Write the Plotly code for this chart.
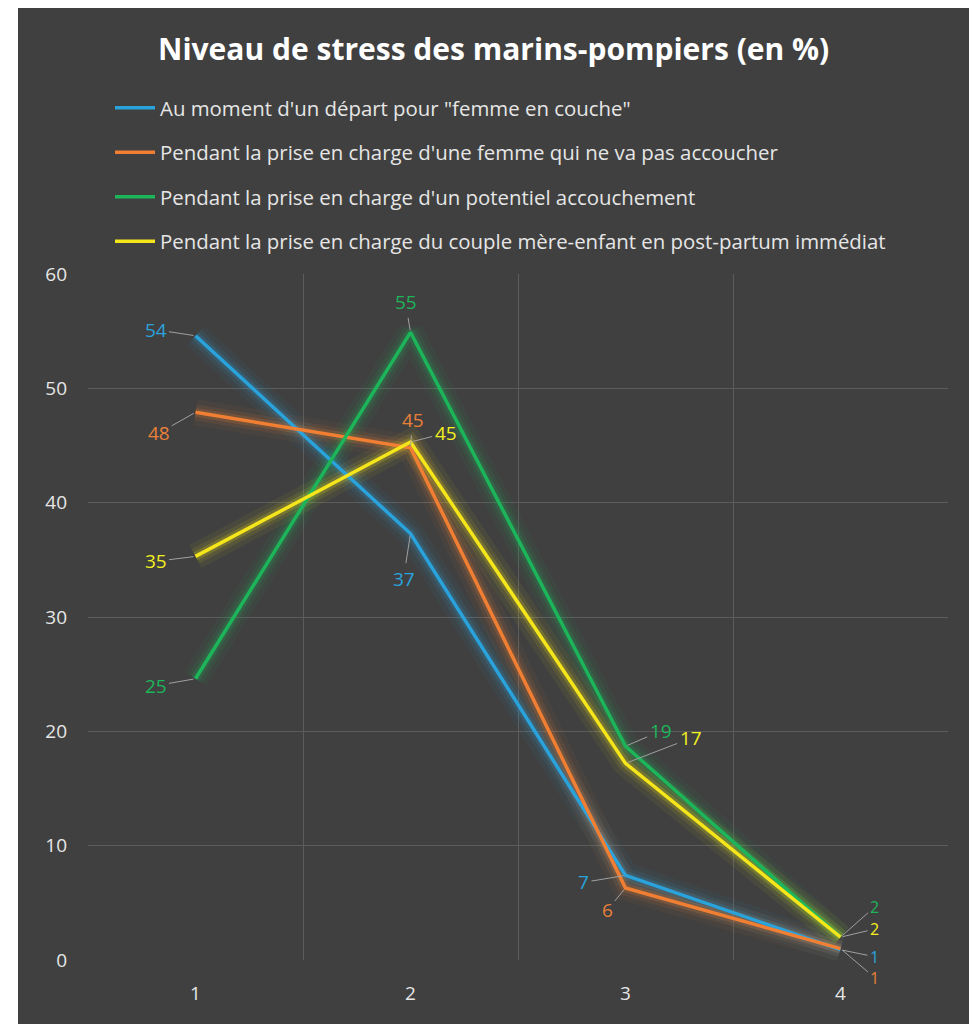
import plotly.graph_objects as go

categories = ["1", "2", "3", "4"]

series_names = [
    "Au moment d'un départ pour \"femme en couche\"",
    "Pendant la prise en charge d'une femme qui ne va pas accoucher",
    "Pendant la prise en charge d'un potentiel accouchement",
    "Pendant la prise en charge du couple mère-enfant en post-partum immédiat",
]
blue_vals = [54.6, 37.3, 7.4, 0.9]
orange_vals = [47.9, 44.8, 6.3, 1.0]
green_vals = [24.6, 54.9, 18.7, 2.0]
yellow_vals = [35.3, 45.3, 17.2, 2.0]

blue_labels = ["54", "37", "7", "1"]
orange_labels = ["48", "45", "6", "1"]
green_labels = ["25", "55", "19", "2"]
yellow_labels = ["35", "45", "17", "2"]

y_ticks = [0, 10, 20, 30, 40, 50, 60]

colors = ["#2AA3DC", "#F07F33", "#1DB55A", "#F5E51B"]
label_colors = ["#2AA3DC", "#E8803A", "#1DB55A", "#F2F01E"]

all_vals = [blue_vals, orange_vals, green_vals, yellow_vals]
all_labels = [blue_labels, orange_labels, green_labels, yellow_labels]

# label offsets (pixels) for leader lines: (ax, ay) per series per category
offsets = [
    [(-40, -6), (-7, 45), (-42, 7), (34, 7)],
    [(-37, 21), (2, -28), (-18, 22), (34, 29)],
    [(-40, 7), (-5, -30), (35, -15), (34, -30)],
    [(-40, 5), (35, -9), (65, -25), (34, -8)],
]
label_sizes = [19, 19, 19, 16]

BG = "#404040"
FONT = "Open Sans"
fig = go.Figure()

# glow layers
for vals, col in zip(all_vals, colors):
    for w, op in [(26, 0.05), (16, 0.09), (9, 0.18)]:
        fig.add_trace(go.Scatter(
            x=categories, y=vals, mode="lines",
            line=dict(color=col, width=w), opacity=op,
            showlegend=False, hoverinfo="skip"))

for i, (name, vals, col) in enumerate(zip(series_names, all_vals, colors)):
    fig.add_trace(go.Scatter(
        x=categories, y=vals, mode="lines", name=name,
        legendgroup=f"g{i}",
        line=dict(color=col, width=3.5)))

annotations = []
for vals, labs, col, offs in zip(all_vals, all_labels, label_colors, offsets):
    for idx, (v, lab, (ax, ay)) in enumerate(zip(vals, labs, offs)):
        annotations.append(dict(
            x=idx, y=v, xref="x", yref="y", text=lab, showarrow=True,
            arrowhead=0, arrowwidth=1, arrowcolor="#a0a0a0",
            ax=ax, ay=ay, standoff=2, startstandoff=2, borderpad=0,
            font=dict(family=FONT, size=label_sizes[idx], color=col)))

def px_x(p):
    return (p - 88) / 860

def px_y(p):
    return (960 - p) / 686

annotations.append(dict(
    text="<b>Niveau de stress des marins-pompiers (en %)</b>",
    xref="paper", yref="paper", x=px_x(493), y=px_y(48),
    xanchor="center", yanchor="middle", showarrow=False,
    font=dict(family=FONT, size=30, color="#ffffff")))

shapes = [
    dict(type="rect", xref="paper", yref="paper",
         x0=px_x(0), x1=px_x(18), y0=px_y(1040), y1=px_y(0),
         fillcolor="#ffffff", line=dict(width=0), layer="below"),
    dict(type="rect", xref="paper", yref="paper",
         x0=px_x(970), x1=px_x(990), y0=px_y(1040), y1=px_y(0),
         fillcolor="#ffffff", line=dict(width=0), layer="below"),
]

fig.update_layout(
    width=977, height=1024,
    paper_bgcolor=BG, plot_bgcolor=BG,
    margin=dict(l=80, r=37, t=266, b=72),
    font=dict(family=FONT, color="#d9d9d9"),
    showlegend=True,
    legend=dict(
        x=px_x(110), y=px_y(88), xanchor="left", yanchor="top",
        orientation="v", bgcolor="rgba(0,0,0,0)",
        font=dict(family=FONT, size=20.4, color="#e6e6e6"),
        tracegroupgap=15, itemwidth=40),
    xaxis=dict(
        type="category", tickson="boundaries", showgrid=True,
        gridcolor="#5c5c5c", gridwidth=1, showline=False, zeroline=False,
        ticks="", ticklabelstandoff=20,
        tickfont=dict(family=FONT, size=19, color="#e6e6e6"),
        range=[-0.5, 3.5]),
    yaxis=dict(
        range=[0, 60], tickvals=y_ticks, showgrid=True,
        gridcolor="#5c5c5c", gridwidth=1, zeroline=False, showline=False,
        ticks="", ticklabelstandoff=20,
        tickfont=dict(family=FONT, size=19, color="#e6e6e6")),
    annotations=annotations,
    shapes=shapes,
)

fig.write_html("out.html")
